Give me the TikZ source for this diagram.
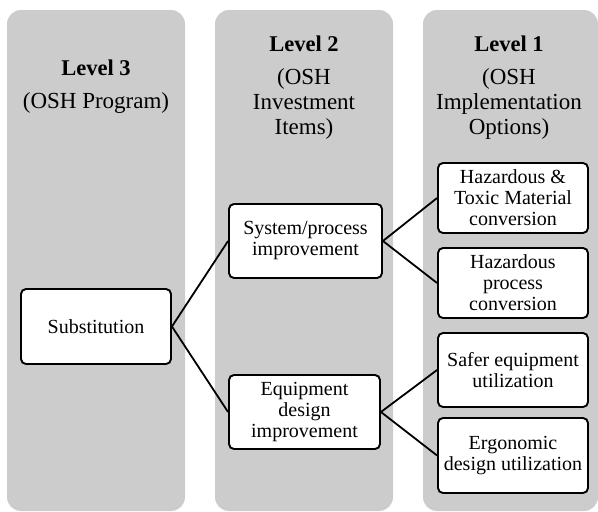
\documentclass[tikz,border=0pt]{standalone}
\usepackage{fontspec}
\setmainfont{Liberation Serif}
\definecolor{panelgray}{RGB}{204,204,204}
\tikzset{
  panel/.style={fill=panelgray, draw=none, rounded corners=14pt},
  item/.style={draw=black, line width=1.9pt, fill=white, rounded corners=5pt,
    align=center, inner sep=1pt, font=\fontsize{20}{21}\selectfont},
  title/.style={anchor=base, inner sep=0pt, font=\fontsize{22.5}{25}\selectfont\bfseries},
  subtitle/.style={anchor=base, inner sep=0pt, align=center, font=\fontsize{23}{25}\selectfont},
  link/.style={line width=1.8pt, draw=black}
}
\begin{document}
\begin{tikzpicture}[x=1pt, y=-1pt]
  \useasboundingbox (0,0) rectangle (598,512);
  % column panels
  \fill[panel] (7,10) rectangle (185,511);
  \fill[panel] (215,10) rectangle (393,511);
  \fill[panel] (423,10) rectangle (598,511);
  % column headings (subtitle nodes sit on the baseline of their last line)
  \node[title] (h3) at (96,75) {Level 3};
  \node[subtitle] (s3) at (96,108) {(OSH Program)};
  \node[title] (h2) at (304,51) {Level 2};
  \node[subtitle] (s2) at (304,134) {(OSH\\Investment\\Items)};
  \node[title] (h1) at (509,51) {Level 1};
  \node[subtitle] (s1) at (509,134) {(OSH\\Implementation\\Options)};
  % level 3
  \node[item, minimum width=150pt, minimum height=75pt] (sub) at (96,326.5) {Substitution};
  % level 2
  \node[item, minimum width=153pt, minimum height=74pt] (sys) at (305.5,241) {System/process\\improvement};
  \node[item, minimum width=151pt, minimum height=74pt] (equ) at (304.5,412) {Equipment\\design\\improvement};
  % level 1
  \node[item, minimum width=150pt, minimum height=70pt] (hzt) at (513,198) {Hazardous \&\\Toxic Material\\conversion};
  \node[item, minimum width=150pt, minimum height=70pt] (hzp) at (513,283) {Hazardous\\process\\conversion};
  \node[item, minimum width=150pt, minimum height=74pt] (saf) at (513,370) {Safer equipment\\utilization};
  \node[item, minimum width=150pt, minimum height=75pt] (erg) at (513,455.5) {Ergonomic\\design utilization};
  % connectors
  \draw[link] (sub.east) -- (sys.west);
  \draw[link] (sub.east) -- (equ.west);
  \draw[link] (sys.east) -- (hzt.west);
  \draw[link] (sys.east) -- (hzp.west);
  \draw[link] (equ.east) -- (saf.west);
  \draw[link] (equ.east) -- (erg.west);
\end{tikzpicture}
\end{document}
